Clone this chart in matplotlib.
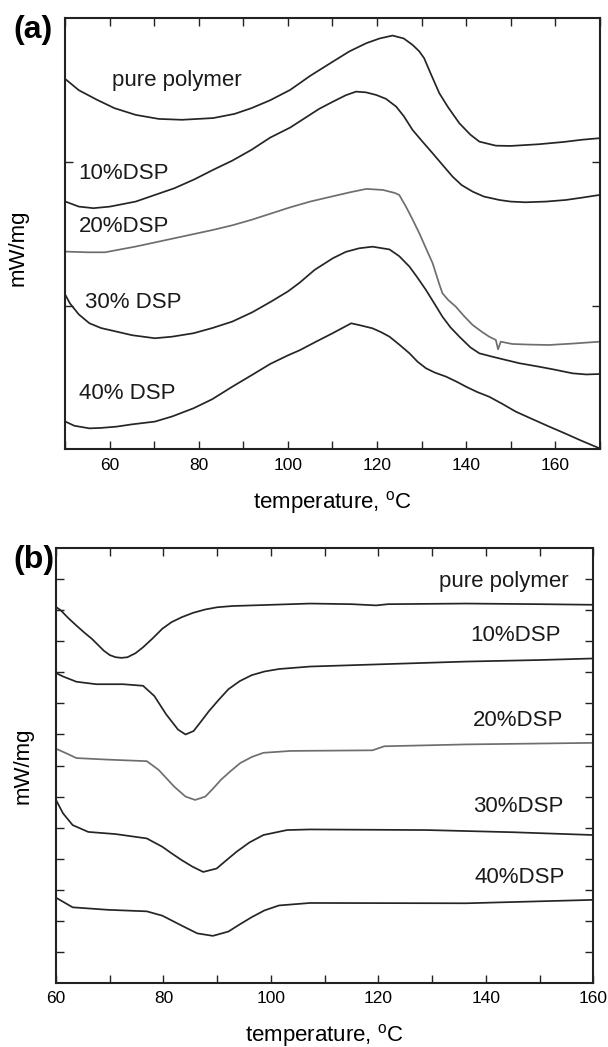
import matplotlib
matplotlib.use("Agg")
import matplotlib.pyplot as plt
from matplotlib.ticker import MultipleLocator

plt.rcParams['font.family'] = ['Liberation Sans', 'DejaVu Sans']
plt.rcParams['mathtext.fontset'] = 'custom'
plt.rcParams['mathtext.rm'] = 'Liberation Sans'

# ---------------- Panel (a) data ----------------
a_labels = ["pure polymer", "10%DSP", "20%DSP", "30% DSP", "40% DSP"]

a_T_pure = [50, 53, 57.1, 61, 65.8, 71, 76.2, 83.2, 88, 91.8, 96, 100.5, 105, 110.1, 113.8, 117.6, 120.6,
            123.5, 126, 128, 129.5, 130.6, 132, 134, 136, 138.5, 141, 143, 146.7, 150, 156.4, 162, 166, 170]
a_y_pure = [2.577, 2.50, 2.433, 2.375, 2.328, 2.300, 2.294, 2.306, 2.335, 2.375, 2.43, 2.502, 2.60, 2.699,
            2.77, 2.827, 2.86, 2.88, 2.86, 2.815, 2.77, 2.722, 2.62, 2.479, 2.38, 2.27, 2.19, 2.142, 2.114,
            2.112, 2.124, 2.14, 2.155, 2.166]

a_T_10 = [50, 53, 56.3, 60, 65.8, 70, 74.5, 79, 83.2, 87.5, 91.8, 96, 100.5, 104, 107, 110.1, 113, 115.3,
          117.5, 119.8, 122, 124.3, 126, 128, 130, 132.5, 135, 137, 139, 141.5, 144, 147.5, 150, 153.4, 158,
          162.4, 166, 170]
a_y_10 = [1.725, 1.69, 1.679, 1.69, 1.725, 1.77, 1.818, 1.88, 1.946, 2.01, 2.085, 2.17, 2.24, 2.31, 2.37,
          2.42, 2.465, 2.490, 2.485, 2.467, 2.44, 2.386, 2.32, 2.223, 2.15, 2.061, 1.97, 1.898, 1.84, 1.794,
          1.76, 1.736, 1.725, 1.720, 1.725, 1.736, 1.752, 1.771]

a_T_20 = [50, 55, 58.9, 62, 65.8, 70, 74.5, 79, 83.2, 87.5, 91.8, 96, 100.5, 105, 110.1, 114, 117.6, 121.3,
          124, 125, 126.5, 128, 129.5, 131, 132.5, 134, 134.7, 136, 137.7, 139.5, 141.5, 143.5, 145.2, 146.7,
          147.2, 147.8, 150.4, 154, 158.6, 164, 170]
a_y_20 = [1.377, 1.372, 1.372, 1.39, 1.412, 1.44, 1.470, 1.50, 1.528, 1.56, 1.598, 1.64, 1.685, 1.725, 1.762,
          1.79, 1.813, 1.806, 1.785, 1.771, 1.690, 1.60, 1.505, 1.40, 1.296, 1.15, 1.087, 1.04, 0.994, 0.93,
          0.866, 0.82, 0.785, 0.762, 0.697, 0.750, 0.734, 0.73, 0.727, 0.737, 0.750]

a_T_30 = [50, 51, 53, 55.4, 58, 61.5, 65, 70.1, 74, 78.8, 83, 87.5, 92, 96.2, 100, 102.6, 106, 110.1, 113,
          116, 119, 122.8, 125, 127.3, 129, 131, 133, 134.7, 136.5, 138.5, 141, 143, 146, 148.9, 152, 156.4,
          160, 163.9, 167, 170]
a_y_30 = [1.075, 1.017, 0.94, 0.878, 0.845, 0.820, 0.795, 0.774, 0.785, 0.809, 0.845, 0.890, 0.955, 1.029,
          1.10, 1.16, 1.25, 1.331, 1.375, 1.40, 1.411, 1.392, 1.345, 1.272, 1.20, 1.110, 1.01, 0.924, 0.85,
          0.785, 0.71, 0.669, 0.645, 0.623, 0.60, 0.576, 0.555, 0.530, 0.522, 0.525]

a_T_40 = [50, 52, 55.4, 58, 61.5, 65, 70.1, 74, 78.8, 83, 87.5, 92, 96, 100, 102.6, 106.3, 110.1, 114.2,
          116.5, 119, 121, 122.8, 125, 127.3, 129.1, 131, 133, 135.5, 138, 140, 142.5, 145.2, 148, 151.2,
          155, 158.7, 162, 166, 170]
a_y_40 = [0.194, 0.165, 0.147, 0.150, 0.159, 0.175, 0.194, 0.23, 0.287, 0.35, 0.437, 0.52, 0.595, 0.655,
          0.69, 0.75, 0.81, 0.878, 0.862, 0.843, 0.815, 0.785, 0.73, 0.669, 0.611, 0.565, 0.535, 0.507, 0.47,
          0.437, 0.40, 0.367, 0.32, 0.263, 0.21, 0.159, 0.115, 0.06, 0.008]

# ---------------- Panel (b) data ----------------
b_labels = ["pure polymer", "10%DSP", "20%DSP", "30%DSP", "40%DSP"]

b_T_pure = [60, 60.9, 62.3, 63.8, 65.3, 66.7, 68.9, 70, 71.1, 72.2, 73.3, 74.8, 76.2, 78, 79.8, 81.5, 83.4,
            85.5, 87.8, 90, 92.8, 100.1, 107.3, 115, 119.6, 121.8, 136.3, 150, 160]
b_y_pure = [12.11, 12.0, 11.75, 11.51, 11.28, 11.08, 10.70, 10.56, 10.49, 10.47, 10.49, 10.62, 10.81, 11.1,
            11.41, 11.62, 11.78, 11.92, 12.03, 12.10, 12.14, 12.18, 12.22, 12.20, 12.16, 12.20, 12.22, 12.20,
            12.18]

b_T_10 = [60, 61.3, 63.8, 67.5, 72.5, 76.2, 78.3, 80.5, 82.7, 84.1, 85.6, 87, 88.5, 90.3, 92.1, 94.2, 96.4,
          98.8, 101.5, 107.3, 121.8, 136.3, 150, 160]
b_y_10 = [9.98, 9.87, 9.70, 9.62, 9.62, 9.57, 9.24, 8.65, 8.16, 8.0, 8.11, 8.42, 8.76, 9.12, 9.46, 9.72,
          9.91, 10.03, 10.11, 10.19, 10.27, 10.35, 10.40, 10.45]

b_T_20 = [60, 61.7, 63.8, 69.6, 76.9, 79.1, 82, 84.1, 85.9, 87.8, 89.2, 90.7, 92.5, 94.3, 96.5, 98.6, 103.7,
          118.9, 121.1, 136.3, 160]
b_y_20 = [7.54, 7.41, 7.24, 7.19, 7.14, 6.86, 6.32, 6.0, 5.89, 6.0, 6.25, 6.54, 6.82, 7.08, 7.28, 7.41, 7.47,
          7.49, 7.62, 7.68, 7.73]

b_T_30 = [60, 61.3, 63.1, 66, 71.1, 76.9, 79.8, 81.6, 83.4, 85.4, 87.4, 89.9, 91.8, 93.6, 96, 98.6, 103,
          107.3, 129.1, 145, 160]
b_y_30 = [5.89, 5.46, 5.08, 4.86, 4.79, 4.65, 4.38, 4.16, 3.95, 3.74, 3.57, 3.68, 3.96, 4.22, 4.52, 4.76,
          4.92, 4.94, 4.92, 4.85, 4.76]

b_T_40 = [60, 63.1, 69.6, 76.9, 79.8, 83.4, 86.3, 89.2, 92.1, 94.2, 96.4, 98.8, 101.5, 107.3, 136.3, 160]
b_y_40 = [2.74, 2.43, 2.35, 2.30, 2.16, 1.84, 1.59, 1.51, 1.65, 1.88, 2.11, 2.33, 2.49, 2.57, 2.56, 2.67]

dark = "#252525"
gray = "#6e6e6e"
LW = 1.25
FS = 16

fig = plt.figure(figsize=(6.08, 10.47), dpi=100)
ax_a = fig.add_axes([0.1076, 0.5707, 0.8785, 0.4118])
ax_b = fig.add_axes([0.0921, 0.0614, 0.8837, 0.4149])


def style(ax, xmin, xmax, ymax):
    ax.set_xlim(xmin, xmax)
    ax.set_ylim(0, ymax)
    ax.xaxis.set_major_locator(MultipleLocator(20))
    ax.xaxis.set_minor_locator(MultipleLocator(10))
    ax.tick_params(which='both', direction='in', top=True, right=True, length=5.5, width=1.0,
                   color='#222222')
    ax.tick_params(axis='x', labelsize=12.5, pad=6)
    ax.tick_params(axis='y', labelleft=False)
    for s in ax.spines.values():
        s.set_linewidth(1.5)
        s.set_color('#222222')


# ---- panel (a)
style(ax_a, 50, 170, 3)
ax_a.set_xticks([60, 80, 100, 120, 140, 160])
ax_a.set_yticks([1, 2])
ax_a.set_yticklabels([])
ax_a.plot(a_T_pure, a_y_pure, color=dark, lw=LW)
ax_a.plot(a_T_10, a_y_10, color=dark, lw=LW)
ax_a.plot(a_T_20, a_y_20, color=gray, lw=LW)
ax_a.plot(a_T_30, a_y_30, color=dark, lw=LW)
ax_a.plot(a_T_40, a_y_40, color=dark, lw=LW)

a_lab_x = [111.7, 78.3, 79.3, 84.5, 79.3]
a_lab_y = [80, 173, 226, 303, 394]
for t, px, py in zip(a_labels, a_lab_x, a_lab_y):
    xa = (px - 65.4) / (599.5 - 65.4)
    ya = (449.5 - py) / (449.5 - 18.3)
    ax_a.text(xa, ya, t, transform=ax_a.transAxes, ha='left', va='center', fontsize=FS, color='#1a1a1a')

ax_a.set_xlabel(r'temperature, $^{\mathrm{o}}$C', fontsize=FS)
ax_a.xaxis.label.set_va('center')
ax_a.xaxis.set_label_coords(0.5, -0.124)
ax_a.set_ylabel('mW/mg', fontsize=FS)
ax_a.yaxis.label.set_va('center')
ax_a.yaxis.set_label_coords(-0.0887, 0.467)
fig.text(13 / 608, 1 - 30 / 1047, '(a)', fontsize=23, fontweight='bold', ha='left', va='center')

# ---- panel (b)
style(ax_b, 60, 160, 14)
ax_b.set_xticks([60, 80, 100, 120, 140, 160])
ax_b.set_yticks(list(range(1, 14)))
ax_b.set_yticklabels([])
ax_b.plot(b_T_pure, b_y_pure, color=dark, lw=LW)
ax_b.plot(b_T_10, b_y_10, color=dark, lw=LW)
ax_b.plot(b_T_20, b_y_20, color=gray, lw=LW)
ax_b.plot(b_T_30, b_y_30, color=dark, lw=LW)
ax_b.plot(b_T_40, b_y_40, color=dark, lw=LW)

b_lab_x = [568.3, 561, 563.3, 563, 565]
b_lab_y = [581.8, 635.3, 720, 806.7, 877.8]
for t, px, py in zip(b_labels, b_lab_x, b_lab_y):
    xa = (px - 56) / (593.3 - 56)
    ya = (982.7 - py) / (982.7 - 548.3)
    ax_b.text(xa, ya, t, transform=ax_b.transAxes, ha='right', va='center', fontsize=FS, color='#1a1a1a')

ax_b.set_xlabel(r'temperature, $^{\mathrm{o}}$C', fontsize=FS)
ax_b.xaxis.label.set_va('center')
ax_b.xaxis.set_label_coords(0.5, -(1035 - 982.7) / (982.7 - 548.3))
ax_b.set_ylabel('mW/mg', fontsize=FS)
ax_b.yaxis.label.set_va('center')
ax_b.yaxis.set_label_coords(-(56 - 23) / (593.3 - 56), 0.5)
fig.text(13 / 608, 1 - 560 / 1047, '(b)', fontsize=23, fontweight='bold', ha='left', va='center')

fig.savefig('out.png', dpi=100)
